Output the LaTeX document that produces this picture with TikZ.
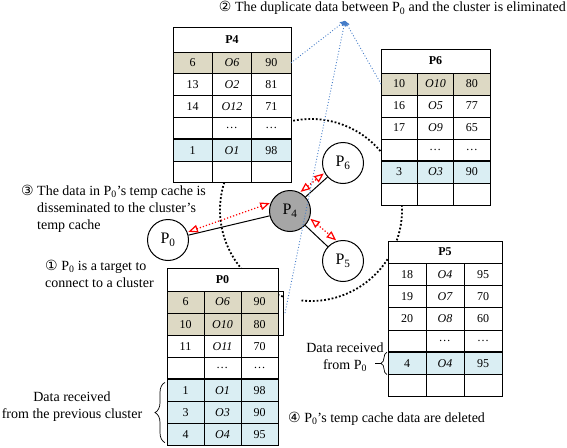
\documentclass[tikz,border=0pt]{standalone}
\usepackage{fontspec}
\setmainfont{Liberation Serif}
\newfontfamily\circfont{DejaVu Sans}
\usepackage{tikz}
\usetikzlibrary{arrows, calc, positioning, decorations.pathreplacing}
\definecolor{tanc}{RGB}{221,217,196}
\definecolor{bluec}{RGB}{218,238,243}
\definecolor{linkblue}{RGB}{68,124,200}
\definecolor{headgray}{RGB}{166,166,166}
\newcommand{\tablefont}{\fontsize{12}{14}\selectfont}
\newcommand{\notefont}{\fontsize{14}{17}\selectfont}
\newcommand{\peerfont}{\fontsize{16}{18}\selectfont}
\tikzset{cell/.style={draw,line width=0.8pt,inner sep=0pt,outer sep=0pt,font=\tablefont}}
\tikzset{headcell/.style={cell,fill=white,font=\tablefont\bfseries}}
\tikzset{peer/.style={circle,draw,line width=1pt,fill=white,minimum size=41pt,inner sep=0pt,font=\peerfont}}
\tikzset{note/.style={inner sep=0pt,font=\notefont}}
\tikzset{link/.style={line width=1pt}}
\tikzset{exch/.style={<->,>=open triangle 45,draw=red,dotted,line width=1.2pt,shorten <=1pt,shorten >=1pt}}
\tikzset{duplink/.style={->,draw=linkblue,dotted,line width=0.9pt}}
\tikzset{cluster/.style={dotted,line width=1.8pt}}
\tikzset{bracenote/.style={decorate,line width=0.7pt}}
% #1 name, #2 top left corner, #3 column width, #4 header height, #5 row height, #6 title, #7 rows
\newcommand{\cachetable}[7]{%
  \node[headcell,minimum width=3*#3,minimum height=#4,anchor=north west] (#1h) at (#2) {#6};
  \foreach \id/\obj/\val/\shade [count=\row] in {#7} {
    \node[cell,fill=\shade,minimum width=#3,minimum height=#5,anchor=north west]
      (#1-\row-1) at ($(#1h.south west)+(0,{(\row-1)*#5})$) {\id};
    \node[cell,fill=\shade,minimum width=#3,minimum height=#5,right=0pt of #1-\row-1,font=\tablefont\itshape] (#1-\row-2) {\obj};
    \node[cell,fill=\shade,minimum width=#3,minimum height=#5,right=0pt of #1-\row-2] (#1-\row-3) {\val};
  }
  \draw[line width=2pt] (#1-5-1.north west) -- (#1-5-3.north east);
}

\begin{document}
\begin{tikzpicture}[>=stealth',x=1pt,y=-1pt]
\useasboundingbox (0,0) rectangle (567,447);

% cluster border
\draw[cluster] ([shift={(108:91)}]311,210) arc[start angle=108,end angle=456,radius=91];

% peers
\node[peer] (p0) at (168,240) {P\textsubscript{0}};
\node[peer,fill=headgray] (p4) at (290,211) {P\textsubscript{4}};
\node[peer] (p6) at (343,163) {P\textsubscript{6}};
\node[peer] (p5) at (343,261) {P\textsubscript{5}};
\draw[link] (p0) -- (p4);
\draw[link] (p4) -- (p6);
\draw[link] (p4) -- (p5);

% temp caches
\cachetable{p4}{173,27}{39.33}{25}{21.8}{P4}{6/O6/90/tanc, 13/O2/81/white, 14/O12/71/white, {}/\dots/\dots/white, 1/O1/98/bluec, {}/{}/{}/white}
\cachetable{p6}{381,49}{36.33}{24}{22}{P6}{10/O10/80/tanc, 16/O5/77/white, 17/O9/65/white, {}/\dots/\dots/white, 3/O3/90/bluec, {}/{}/{}/white}
\cachetable{p5}{388,241}{38}{22}{22.3}{P5}{18/O4/95/white, 19/O7/70/white, 20/O8/60/white, {}/\dots/\dots/white, 4/O4/95/bluec, {}/{}/{}/white}
\cachetable{p0}{167,268}{37}{23}{22.1}{P0}{6/O6/90/tanc, 10/O10/80/tanc, 11/O11/70/white, {}/\dots/\dots/white, 1/O1/98/bluec, 3/O3/90/bluec, 4/O4/95/bluec}

% exchange
\draw[exch] (p0.22) -- (p4.157);
\draw[exch] (p4.62) -- (p6.208);
\draw[exch] (p4.-20) -- (p5.107);

% duplicates
\coordinate (dup) at (345,21);
\draw[line width=0.7pt] ([xshift=1pt]p0-1-3.north east) -- ++(4,0) -- ([xshift=5pt]p0-2-3.south east) -- ++(-4,0);
\coordinate (p0dup) at ($(p0-1-3.south east)+(7,0)$);
\draw[duplink] (p4-1-3.east) -- (dup);
\draw[duplink] (p6-1-1.west) -- (dup);
\draw[duplink] (p0dup) -- (dup);

% received data
\draw[bracenote,decoration={brace,amplitude=10pt}] ([shift={(-2,-3)}]p0-7-1.south west) -- ([shift={(-2,3)}]p0-5-1.north west);
\draw[bracenote,decoration={brace,amplitude=6pt}] ([xshift=-1pt]p5-5-1.south west) -- ([xshift=-1pt]p5-5-1.north west);
\coordinate (p5tip) at ($(p5-5-1.west)+(-7,0)$);
\coordinate (p5dash) at ($(p5tip)+(-6,0)$);
\draw[line width=0.7pt] (p5tip) -- (p5dash);

% notes (base = last line)
\node[note,anchor=base east] (dupnote) at (566,12) {{\circfont ②} The duplicate data between P\textsubscript{0} and the cluster is eliminated};
\node[note,anchor=base west,align=left] (step3) at (37,229) {\llap{{\circfont ③}\ }The data in P\textsubscript{0}'s temp cache is\\disseminated to the cluster's\\temp cache};
\node[note,anchor=base west,align=left] (step1) at (45,287) {{\circfont ①} P\textsubscript{0} is a target to\\connect to a cluster};
\node[note,anchor=base,align=center] (prevnote) at (72,418) {Data received\\from the previous cluster};
\node[note,anchor=base,align=center] (p0note) at (345,369) {Data received\\from P\textsubscript{0}};
\node[note,anchor=base west] (step4) at (288,422) {{\circfont ④} P\textsubscript{0}'s temp cache data are deleted};
\end{tikzpicture}
\end{document}
